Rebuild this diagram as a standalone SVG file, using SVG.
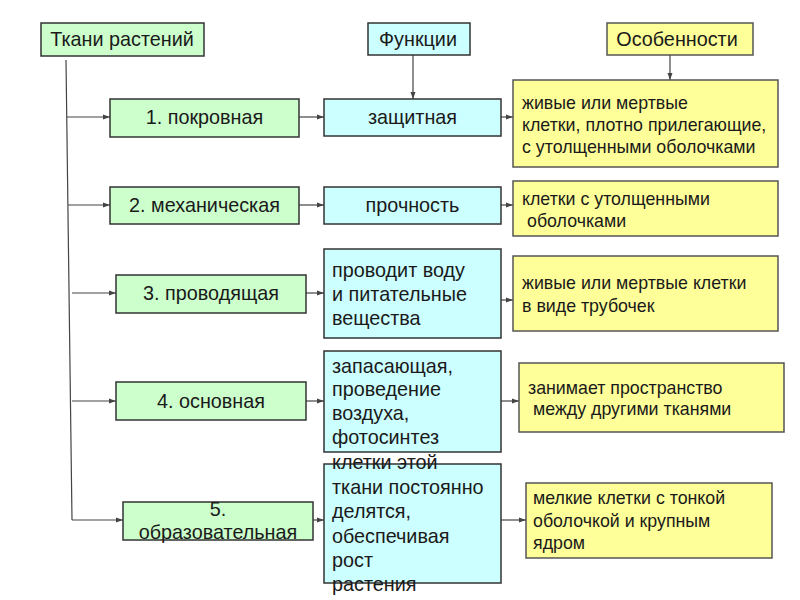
<svg xmlns="http://www.w3.org/2000/svg" width="800" height="600" viewBox="0 0 800 600">
<defs>
<marker id="ah" markerUnits="userSpaceOnUse" markerWidth="7" markerHeight="6" refX="7" refY="3" orient="auto">
<path d="M0,0.5 L7,3 L0,5.5 Z" fill="#444"/>
</marker>
<style>
text{font-family:"Liberation Sans",Arial,sans-serif;font-size:19.8px;fill:#1a1a1a}
.s{font-size:17.8px}
.c{text-anchor:middle}
.g{fill:#ccffcc;stroke:#333;stroke-width:1.5}
.b{fill:#ccffff;stroke:#333;stroke-width:1.5}
.y{fill:#ffff99;stroke:#555;stroke-width:1.5}
.l{stroke:#444;stroke-width:1.2;fill:none}
.a{stroke:#444;stroke-width:1.2;fill:none;marker-end:url(#ah)}
</style>
</defs>
<rect width="800" height="600" fill="#fff"/>

<g id="connectors">
<line class="l" x1="66" y1="60" x2="72" y2="520"/>
<line class="a" x1="67" y1="117" x2="110" y2="117"/>
<line class="a" x1="68" y1="205" x2="110" y2="205"/>
<line class="a" x1="72" y1="293" x2="116" y2="293"/>
<line class="a" x1="72" y1="401" x2="116" y2="401"/>
<line class="a" x1="72" y1="520" x2="123" y2="520"/>
<line class="a" x1="413" y1="55" x2="413" y2="99"/>
<line class="a" x1="670" y1="55" x2="670" y2="80"/>
<line class="a" x1="299" y1="117" x2="324" y2="117"/>
<line class="a" x1="299" y1="205" x2="324" y2="205"/>
<line class="a" x1="306" y1="293" x2="324" y2="293"/>
<line class="a" x1="306" y1="401" x2="324" y2="401"/>
<line class="a" x1="313" y1="520" x2="324" y2="520"/>
<line class="a" x1="501" y1="117" x2="513" y2="117"/>
<line class="a" x1="501" y1="205" x2="513" y2="205"/>
<line class="a" x1="501" y1="300" x2="513" y2="300"/>
<line class="a" x1="501" y1="401" x2="519" y2="401"/>
<line class="a" x1="501" y1="520" x2="526" y2="520"/>
</g>

<g id="tkani"><rect class="g" x="41" y="23" width="163" height="33"/><text class="c" x="122" y="46">Ткани растений</text></g>
<g id="funkcii"><rect class="b" x="368" y="23" width="102" height="32"/><text class="c" x="418" y="46">Функции</text></g>
<g id="osoben"><rect class="y" x="607" y="23" width="146" height="32"/><text class="c" x="677" y="46">Особенности</text></g>

<g id="t1"><rect class="g" x="110" y="99" width="189" height="38"/><text class="c" x="204.5" y="124">1. покровная</text></g>
<g id="t2"><rect class="g" x="110" y="187" width="189" height="37"/><text class="c" x="204.5" y="212">2. механическая</text></g>
<g id="t3"><rect class="g" x="116" y="275" width="190" height="38"/><text class="c" x="211" y="300">3. проводящая</text></g>
<g id="t4"><rect class="g" x="116" y="382" width="190" height="38"/><text class="c" x="211" y="408">4. основная</text></g>
<g id="t5"><rect class="g" x="123" y="502" width="190" height="38"/><text class="c" x="218" y="516">5.</text><text class="c" x="218" y="539">образовательная</text></g>

<g id="f1"><rect class="b" x="324" y="99" width="177" height="37"/><text class="c" x="412.5" y="124">защитная</text></g>
<g id="f2"><rect class="b" x="324" y="187" width="177" height="37"/><text class="c" x="412.5" y="212">прочность</text></g>
<g id="f3"><rect class="b" x="324" y="249" width="177" height="89"/><text x="332" y="277">проводит воду</text><text x="332" y="301">и питательные</text><text x="332" y="325">вещества</text></g>
<g id="f4"><rect class="b" x="324" y="351" width="177" height="101"/><text x="332" y="373">запасающая,</text><text x="332" y="396">проведение</text><text x="332" y="420">воздуха,</text><text x="332" y="444">фотосинтез</text></g>
<g id="f5"><rect class="b" x="324" y="464" width="177" height="119"/><text x="332" y="469">клетки этой</text><text x="332" y="494">ткани постоянно</text><text x="332" y="518">делятся,</text><text x="332" y="543">обеспечивая</text><text x="332" y="567">рост</text><text x="332" y="591">растения</text></g>

<g id="o1"><rect class="y" x="513" y="80" width="265" height="87"/><text class="s" x="522" y="109">живые или мертвые</text><text class="s" x="522" y="131">клетки, плотно прилегающие,</text><text class="s" x="522" y="153">с утолщенными оболочками</text></g>
<g id="o2"><rect class="y" x="513" y="181" width="265" height="55"/><text class="s" x="522" y="205">клетки с утолщенными</text><text class="s" x="527" y="227">оболочками</text></g>
<g id="o3"><rect class="y" x="513" y="256" width="265" height="75"/><text class="s" x="522" y="289">живые или мертвые клетки</text><text class="s" x="522" y="312">в виде трубочек</text></g>
<g id="o4"><rect class="y" x="519" y="363" width="265" height="69"/><text class="s" x="528" y="394">занимает пространство</text><text class="s" x="533" y="415">между другими тканями</text></g>
<g id="o5"><rect class="y" x="526" y="483" width="246" height="75"/><text class="s" x="533" y="504">мелкие клетки с тонкой</text><text class="s" x="533" y="527">оболочкой и крупным</text><text class="s" x="533" y="549">ядром</text></g>
</svg>
